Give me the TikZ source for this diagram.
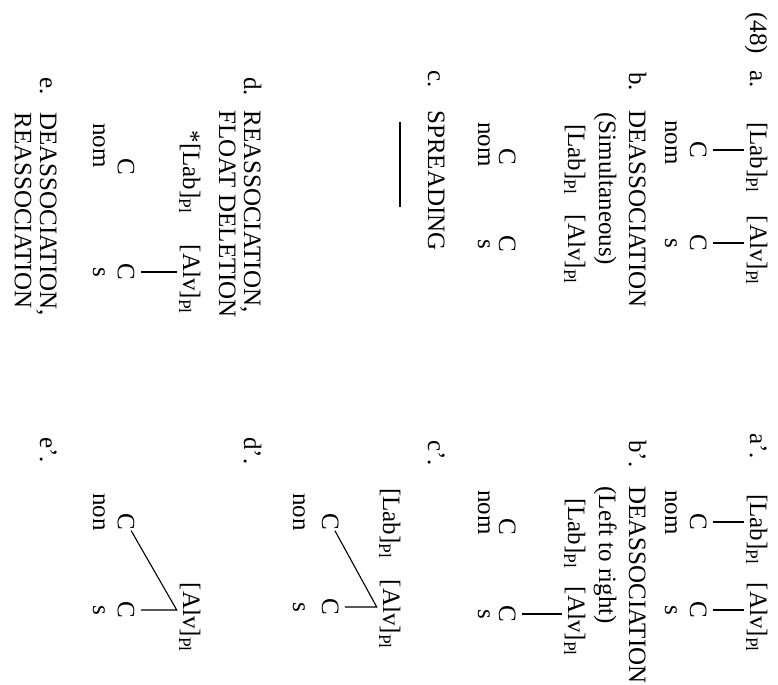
\documentclass[tikz,border=0pt]{standalone}
\usepackage{fontspec}
\setmainfont{Liberation Serif}

\newcommand{\subPl}{\rlap{\textsubscript{Pl}}}

\begin{document}
\begin{tikzpicture}[x=0.5pt, y=0.5pt,
	every node/.style={font=\fontsize{12.5}{15}\selectfont},
	txt/.style={inner sep=0pt, anchor=base west},
	feat/.style={inner xsep=0pt, inner ysep=1pt, anchor=base},
	slot/.style={inner xsep=0pt, inner ysep=3pt, anchor=base},
	assoc/.style={line width=0.55pt},
	]
	\useasboundingbox (0,-685) rectangle (778,0);
	\begin{scope}[rotate=-90, transform shape]
	%Labels
	\node[txt] (num) at (12,750) {(48)};
	\node[txt] (la)  at (70,750) {a.};
	\node[txt] (lb)  at (72,629) {b.};
	\node[txt] (lc)  at (70,428) {c.};
	\node[txt] (ld)  at (77,244) {d.};
	\node[txt] (le)  at (77,40)  {e.};
	\node[txt] (lap) at (433,750) {a'.};
	\node[txt] (lbp) at (440,629) {b'.};
	\node[txt] (lcp) at (440,428) {c'.};
	\node[txt] (ldp) at (437,244) {d'.};
	\node[txt] (lep) at (437,40)  {e'.};
	
	%Titles
	\node[txt] (tb)  at (110,629) {DEASSOCIATION};
	\node[txt] (sb)  at (112,599) {(Simultaneous)};
	\node[txt] (tc)  at (110,428) {SPREADING};
	\node[txt] (td)  at (110,244) {REASSOCIATION,};
	\node[txt] (sd)  at (110,219) {FLOAT DELETION};
	\node[txt] (te)  at (112,40)  {DEASSOCIATION,};
	\node[txt] (se)  at (112,15)  {REASSOCIATION};
	\node[txt] (tbp) at (486,629) {DEASSOCIATION};
	\node[txt] (sbp) at (486,599) {(Left to right)};
	
	%a.
	\node[feat] (laba) at (150,750) {[Lab]\subPl};
	\node[feat] (alva) at (243,750) {[Alv]\subPl};
	\node[slot] (ca1)  at (150,690) {C};
	\node[slot] (ca2)  at (243,690) {C};
	\node[txt]  (na1)  at (120,665) {nom};
	\node[feat] (na2)  at (243,665) {s};
	
	%b.
	\node[feat] (labb) at (152,568) {[Lab]\subPl};
	\node[feat] (alvb) at (242,568) {[Alv]\subPl};
	\node[slot] (cb1)  at (157,499) {C};
	\node[slot] (cb2)  at (244,499) {C};
	\node[txt]  (nb1)  at (122,478) {nom};
	\node[feat] (nb2)  at (244,478) {s};
	
	%c.
	\coordinate (blank1) at (122,400);
	\coordinate (blank2) at (207,400);
	
	%d.
	\node[feat] (labd) at (171,183) {\llap{*}[Lab]\subPl};
	\node[feat] (alvd) at (272,183) {[Alv]\subPl};
	\node[slot] (cd1)  at (167,118) {C};
	\node[slot] (cd2)  at (272,118) {C};
	\node[txt]  (nd1)  at (123,93)  {nom};
	\node[feat] (nd2)  at (272,93)  {s};
	
	%a'.
	\node[feat] (labap) at (522,750) {[Lab]\subPl};
	\node[feat] (alvap) at (610,750) {[Alv]\subPl};
	\node[slot] (cap1)  at (522,690) {C};
	\node[slot] (cap2)  at (610,690) {C};
	\node[txt]  (nap1)  at (490,665) {nom};
	\node[feat] (nap2)  at (610,665) {s};
	
	%b'.
	\node[feat] (labbp) at (526,568) {[Lab]\subPl};
	\node[feat] (alvbp) at (614,568) {[Alv]\subPl};
	\node[slot] (cbp1)  at (527,499) {C};
	\node[slot] (cbp2)  at (614,499) {C};
	\node[txt]  (nbp1)  at (490,478) {nom};
	\node[feat] (nbp2)  at (614,478) {s};
	
	%c'.
	\node[feat] (labcp) at (516,383) {[Lab]\subPl};
	\node[feat] (alvcp) at (607,383) {[Alv]\subPl};
	\node[slot] (ccp1)  at (522,322) {C};
	\node[slot] (ccp2)  at (607,322) {C};
	\node[txt]  (ncp1)  at (493,293) {non};
	\node[feat] (ncp2)  at (607,293) {s};
	
	%d'.
	\node[feat] (alvdp) at (610,183) {[Alv]\subPl};
	\node[slot] (cdp1)  at (522,118) {C};
	\node[slot] (cdp2)  at (610,118) {C};
	\node[txt]  (ndp1)  at (493,93)  {non};
	\node[feat] (ndp2)  at (610,93)  {s};
	
	%Lines
	\draw[assoc] (laba) -- (ca1);
	\draw[assoc] (alva) -- (ca2);
	\draw[assoc] (blank1) -- (blank2);
	\draw[assoc] (alvd) -- (cd2);
	\draw[assoc] (labap) -- (cap1);
	\draw[assoc] (alvap) -- (cap2);
	\draw[assoc] (alvbp) -- (cbp2);
	\draw[assoc] (ccp1) -- (alvcp.south) -- (ccp2);
	\draw[assoc] (cdp1) -- (alvdp.south) -- (cdp2);
	\end{scope}
\end{tikzpicture}
\end{document}
